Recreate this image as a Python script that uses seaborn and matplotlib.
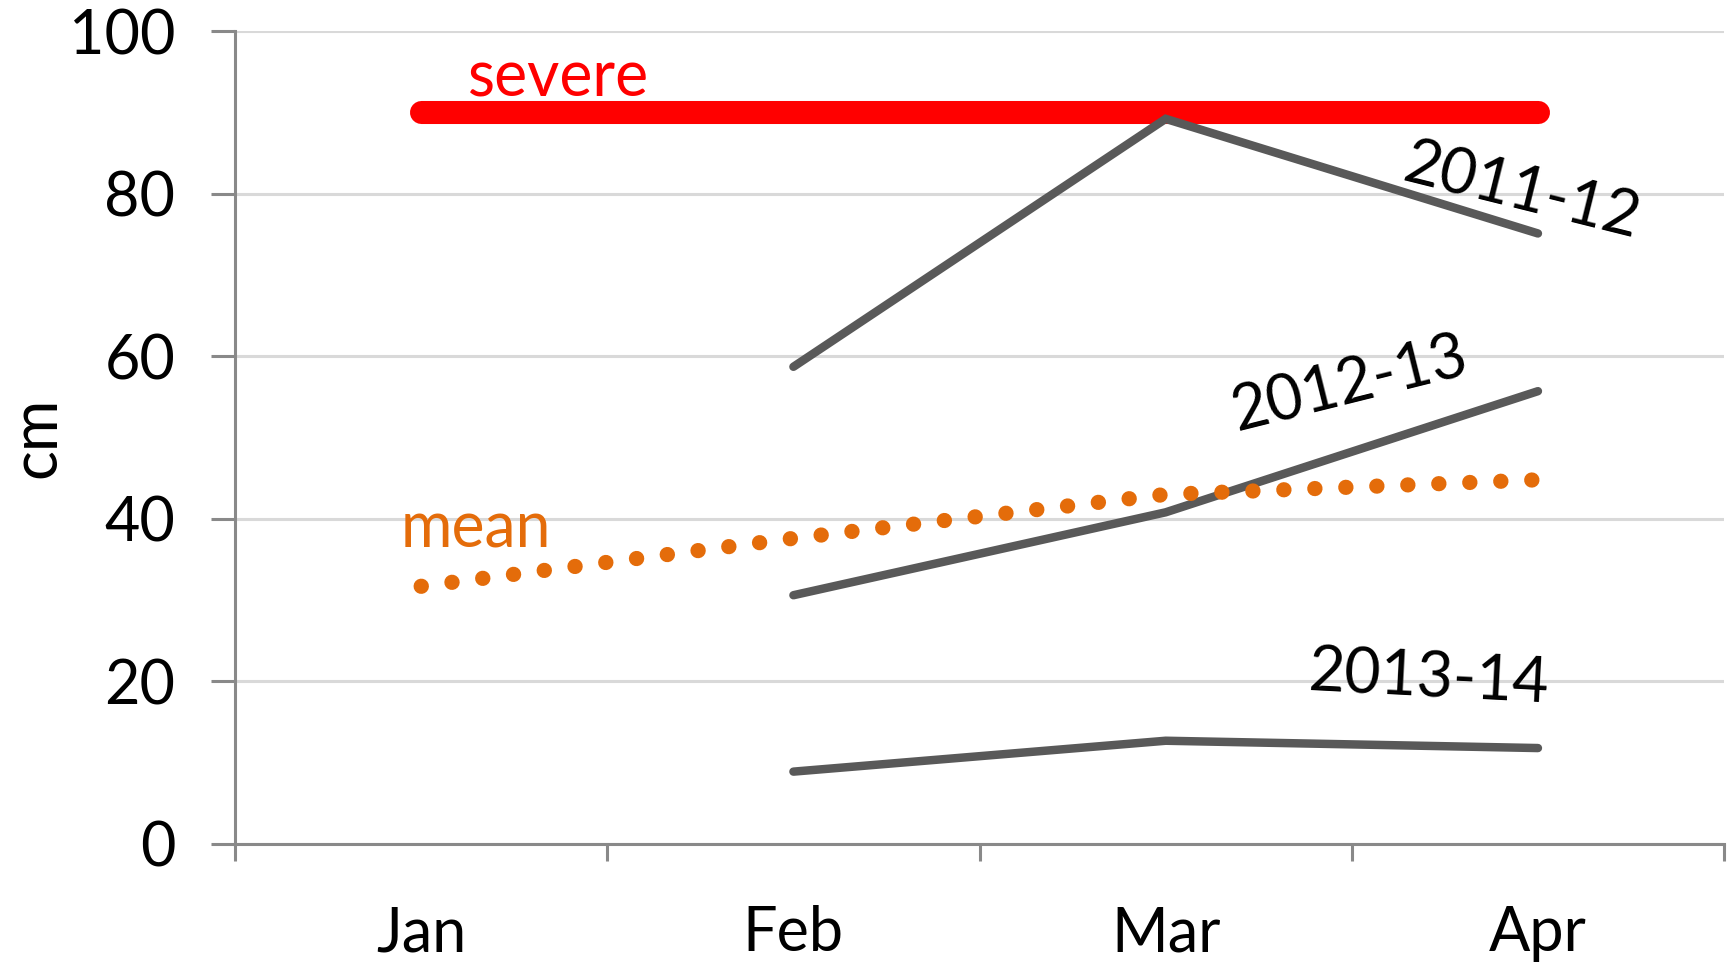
import pandas as pd
import matplotlib.pyplot as plt
import seaborn as sns

# Snow depth by month (cm)
months = ["Jan", "Feb", "Mar", "Apr"]
season_months = ["Feb", "Mar", "Apr"]
severe = [90, 90, 90, 90]
mean_depth = [31.7, 37.6, 43.0, 44.8]
s2011_12 = [58.7, 89.2, 75.1]
s2012_13 = [30.6, 40.8, 55.7]
s2013_14 = [8.9, 12.7, 11.8]
y_ticks = [0, 20, 40, 60, 80, 100]

GRAY = "#595959"
ORANGE = "#E46C0A"
RED = "#FF0000"
AXIS = "#898989"
GRID = "#D9D9D9"

sns.set_style("white")
plt.rcParams["font.family"] = ["Lato", "DejaVu Sans"]
plt.rcParams["text.color"] = "black"
plt.rcParams["axes.labelcolor"] = "black"

pos = {m: i for i, m in enumerate(months)}


def frame(labels, values):
    return pd.DataFrame({"pos": [pos[m] for m in labels], "cm": values})


fig = plt.figure(figsize=(17.27, 9.64), dpi=100)
ax = fig.add_axes([0.1361, 0.1245, 0.8622, 0.8433])

# severe threshold sits underneath the seasons
sns.lineplot(data=frame(months, severe), x="pos", y="cm", color=RED,
             linewidth=16.6, solid_capstyle="round", zorder=2, ax=ax)

for vals in (s2011_12, s2012_13, s2013_14):
    sns.lineplot(data=frame(season_months, vals), x="pos", y="cm", color=GRAY,
                 linewidth=6.1, solid_capstyle="round", solid_joinstyle="miter",
                 zorder=3, ax=ax)

sns.lineplot(data=frame(months, mean_depth), x="pos", y="cm", color=ORANGE,
             linewidth=11, linestyle=(0, (0.01, 2.02)), dash_capstyle="round",
             zorder=4, ax=ax)

# axes styling
ax.set_xlim(-0.5, 3.5)
ax.set_ylim(0, 100)
ax.set_yticks(y_ticks)
ax.set_xticks([-0.5, 0.5, 1.5, 2.5, 3.5])
ax.set_xticklabels([])
ax.set_xticks(range(len(months)), minor=True)
ax.set_xticklabels(months, minor=True)
ax.tick_params(axis="x", which="major", bottom=True, direction="out", length=12,
               width=2.2, color=AXIS)
ax.tick_params(axis="x", which="minor", bottom=True, length=0, pad=44,
               labelsize=44, labelcolor="black")
ax.tick_params(axis="y", left=True, direction="out", length=17, width=2.2, color=AXIS,
               pad=26, labelsize=44, labelcolor="black")
ax.grid(axis="y", color=GRID, linewidth=2.2)
ax.set_axisbelow(True)
for side in ("top", "right"):
    ax.spines[side].set_visible(False)
for side in ("left", "bottom"):
    ax.spines[side].set_color(AXIS)
    ax.spines[side].set_linewidth(2.2)

ax.set_xlabel("")
ax.set_ylabel("cm", fontsize=45)
ax.yaxis.set_label_coords(-0.1135, 0.5)

# direct labels
ax.text(0.37, 91.9, "severe", color=RED, fontsize=45, ha="center", va="baseline")
ax.text(0.147, 36.5, "mean", color=ORANGE, fontsize=45, ha="center", va="baseline")
ax.text(2.96, 80.8, "2011-12", fontsize=45, rotation=-14, ha="center",
        va="center_baseline", rotation_mode="anchor")
ax.text(2.49, 57.1, "2012-13", fontsize=45, rotation=14, ha="center",
        va="center_baseline", rotation_mode="anchor")
ax.text(2.705, 21.0, "2013-14", fontsize=45, rotation=-3, ha="center",
        va="center_baseline", rotation_mode="anchor")

fig.savefig("out.png", dpi=100)
